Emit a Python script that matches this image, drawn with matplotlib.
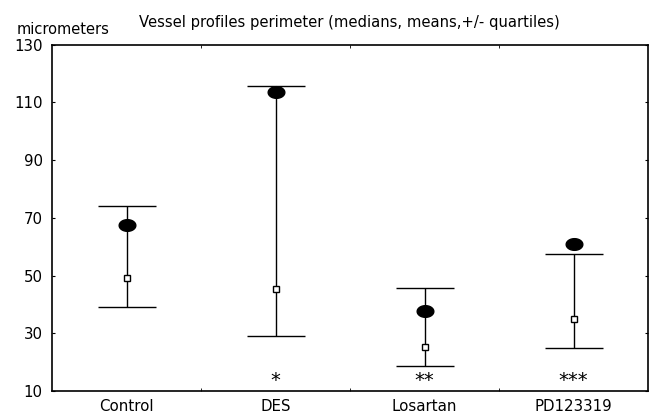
import matplotlib
matplotlib.use('Agg')
import matplotlib.pyplot as plt
import numpy as np
from matplotlib.path import Path

groups = ['Control', 'DES', 'Losartan', 'PD123319']
q_low = [39.0, 29.2, 18.6, 24.8]
q_high = [74.0, 115.6, 45.5, 57.6]
means = [67.4, 113.6, 37.7, 60.8]
medians = [49.2, 45.4, 25.3, 35.0]
stars = ['', '*', '**', '***']

plt.rcParams['font.family'] = 'DejaVu Sans'

fig = plt.figure(figsize=(6.52, 4.16), dpi=100)
ax = fig.add_axes([0.0805, 0.0601, 0.9134, 0.8329])

x = np.arange(len(groups))
med = np.array(medians)
err = [med - np.array(q_low), np.array(q_high) - med]

# quartile bars around the median
ax.errorbar(x, med, yerr=err, fmt='none', ecolor='black', elinewidth=1.0,
            capsize=21, capthick=1.0, zorder=2)

# slightly flattened dot for the means (as in the scanned figure)
t = np.linspace(0, 2 * np.pi, 60)
ell = Path(np.column_stack([np.cos(t), 0.7 * np.sin(t)]), closed=True)
ax.plot(x, means, linestyle='none', marker=ell, markersize=12,
        color='black', zorder=3)
ax.plot(x, medians, linestyle='none', marker='s', markersize=5,
        markerfacecolor='white', markeredgecolor='black',
        markeredgewidth=1.0, zorder=4)

for i, s in enumerate(stars):
    if s:
        ax.text(x[i], 13.5, s, ha='center', va='center', fontsize=14)

ax.set_xlim(-0.5, 3.5)
ax.set_ylim(10, 130)
ax.set_yticks(np.arange(10, 131, 20))
ax.set_xticks(x)
ax.set_xticklabels(groups)
ax.set_xticks([0.5, 1.5, 2.5], minor=True)
ax.tick_params(axis='x', which='major', length=0, pad=6, labelsize=10.8)
ax.tick_params(axis='x', which='minor', direction='in', length=2,
               top=True, bottom=True)
ax.tick_params(axis='y', direction='in', length=2, right=True,
               pad=7, labelsize=10.8)
for sp in ax.spines.values():
    sp.set_linewidth(1.2)

fig.text(17 / 652, 1 - 29 / 416, 'micrometers', fontsize=10.5,
         ha='left', va='center')
fig.text(139 / 652, 1 - 23 / 416,
         'Vessel profiles perimeter (medians, means,+/- quartiles)',
         fontsize=10.65, ha='left', va='center')

fig.savefig('out.png', dpi=100)
